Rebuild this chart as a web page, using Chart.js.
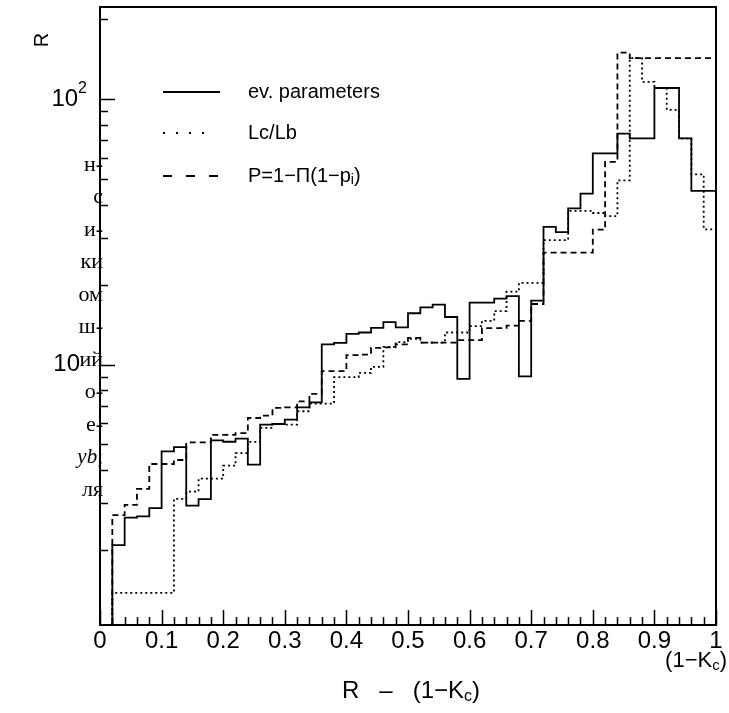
<!doctype html>
<html lang="ru">

<head>
    <meta charset="utf-8">
    <title>R - (1-Kc)</title>
    <style>
        html, body { margin: 0; padding: 0; background: #fff; }
        #box { position: relative; width: 729px; height: 713px; }
    </style>
</head>

<body>
    <div id="box"><canvas id="myChart" width="729" height="713"></canvas></div>

    <script src="https://cdn.jsdelivr.net/npm/chart.js"></script>
    <script>
        // lower edges of the 0.02 wide bins, the last bin closes at 1.0
        var binLow = [0.02, 0.04, 0.06, 0.08, 0.10, 0.12, 0.14, 0.16, 0.18, 0.20,
                      0.22, 0.24, 0.26, 0.28, 0.30, 0.32, 0.34, 0.36, 0.38, 0.40,
                      0.42, 0.44, 0.46, 0.48, 0.50, 0.52, 0.54, 0.56, 0.58, 0.60,
                      0.62, 0.64, 0.66, 0.68, 0.70, 0.72, 0.74, 0.76, 0.78, 0.80,
                      0.82, 0.84, 0.86, 0.88, 0.90, 0.92, 0.94, 0.96, 0.98];
        var binHigh = 1.0;

        // ev. parameters (solid)
        var evParams = [2.09, 2.65, 2.68, 2.88, 4.71, 4.89, 2.94, 3.11, 5.18, 5.12,
                        5.26, 4.2, 5.94, 5.97, 6.2, 6.9, 7.2, 11.9, 12.07, 13.05,
                        13.2, 13.75, 14.45, 13.8, 15.6, 16.4, 16.8, 15.1, 8.83, 17.1,
                        17.1, 17.7, 18.1, 9.03, 17.4, 33.0, 31.5, 38.7, 44.0, 62.4,
                        62.4, 74.0, 71.1, 71.1, 110, 110, 71.1, 45.1, 45.1];

        // Lc/Lb (dotted)
        var lcLb = [1.38, 1.38, 1.38, 1.38, 1.38, 3.12, 3.32, 3.72, 3.72, 4.16,
                    4.64, 5.11, 5.77, 5.97, 5.94, 6.67, 7.13, 7.13, 8.96, 8.96,
                    9.3, 9.8, 11.66, 12.14, 12.5, 12.1, 12.1, 13.2, 13.2, 13.95,
                    14.6, 15.9, 18.8, 20.3, 20.3, 29.4, 29.4, 37.9, 37.9, 37.2,
                    36.2, 49.4, 142.4, 116, 110, 91, 71.1, 52, 32.3];

        // P = 1 - prod(1 - p_i) (dashed)
        var pComb = [2.71, 2.96, 3.40, 4.22, 4.22, 4.37, 5.09, 5.09, 5.43, 5.43,
                     5.52, 6.29, 6.42, 6.87, 6.9, 7.27, 7.75, 9.44, 9.44, 10.84,
                     10.9, 11.56, 11.6, 11.9, 12.6, 12.1, 12.1, 12.1, 12.35, 12.35,
                     13.7, 13.7, 14.0, 14.6, 16.9, 26.4, 26.4, 26.4, 26.4, 32.2,
                     58.0, 149.5, 142.4, 142.4, 142.4, 142.4, 142.4, 142.4, 142.4];

        var xTicks = [0, 0.1, 0.2, 0.3, 0.4, 0.5, 0.6, 0.7, 0.8, 0.9, 1];
        var xTickLabels = ['0', '0.1', '0.2', '0.3', '0.4', '0.5', '0.6', '0.7', '0.8', '0.9', '1'];
        var yDecades = [10, 100];
        var yMin = 1.045, yMax = 222;

        // text column cut from the neighbouring page
        var sideLines = ['н-', 'с', 'и-', 'ки', 'ом', 'ш-', 'ий', 'о-', 'е-', 'yb;', 'ля'];

        var SANS = '"Liberation Sans", Arial, sans-serif';
        var SERIF = '"Liberation Serif", "DejaVu Serif", serif';

        function histPoints(vals) {
            var pts = [{ x: binLow[0], y: yMin }];
            binLow.forEach(function (x, i) { pts.push({ x: x, y: vals[i] }); });
            pts.push({ x: binHigh, y: vals[vals.length - 1] });
            return pts;
        }

        // draws a string made of pieces, some of them sub/superscript
        function richText(ctx, parts, x, y, size, align) {
            var w = 0;
            parts.forEach(function (p) {
                ctx.font = (p.sub || p.sup ? Math.round(size * 0.68) : size) + 'px ' + SANS;
                p.w = ctx.measureText(p.t).width;
                w += p.w;
            });
            var cx = align === 'right' ? x - w : (align === 'center' ? x - w / 2 : x);
            parts.forEach(function (p) {
                ctx.font = (p.sub || p.sup ? Math.round(size * 0.68) : size) + 'px ' + SANS;
                var dy = p.sub ? size * 0.22 : (p.sup ? -size * 0.42 : 0);
                ctx.fillText(p.t, cx, y + dy);
                cx += p.w;
            });
        }

        // page text left of the frame, drawn first so the axis lies over it
        var sideText = {
            id: 'sideText',
            beforeDraw: function (chart) {
                var ctx = chart.ctx;
                ctx.save();
                ctx.fillStyle = '#000';
                ctx.textAlign = 'right';
                ctx.textBaseline = 'middle';
                sideLines.forEach(function (s, i) {
                    var y = 165 + i * 32.5;
                    if (s === 'yb;') {
                        ctx.font = '21px ' + SERIF;
                        var w = ctx.measureText(';').width;
                        ctx.fillText(';', 103, y);
                        ctx.font = 'italic 21px ' + SERIF;
                        ctx.fillText('yb', 103 - w, y);
                    } else {
                        ctx.font = '22px ' + SERIF;
                        ctx.fillText(s, 103, y);
                    }
                });
                ctx.restore();
            }
        };

        var pawFrame = {
            id: 'pawFrame',
            afterDraw: function (chart) {
                var ctx = chart.ctx, a = chart.chartArea;
                var xs = chart.scales.x, ys = chart.scales.y;
                ctx.save();
                ctx.strokeStyle = '#000';
                ctx.fillStyle = '#000';
                ctx.setLineDash([]);

                // frame
                ctx.lineWidth = 2;
                ctx.strokeRect(a.left, a.top, a.right - a.left, a.bottom - a.top);

                // x ticks, pointing inwards
                ctx.lineWidth = 1.5;
                for (var i = 0; i <= 50; i++) {
                    var px = Math.round(xs.getPixelForValue(i * 0.02)) + 0.5;
                    var len = (i % 5 === 0) ? 15 : 8;
                    ctx.beginPath();
                    ctx.moveTo(px, a.bottom);
                    ctx.lineTo(px, a.bottom - len);
                    ctx.stroke();
                }
                // y ticks on the log scale
                [1, 10, 100].forEach(function (d) {
                    for (var m = 1; m <= 9; m++) {
                        var v = m * d;
                        if (v < yMin || v > yMax) continue;
                        var py = Math.round(ys.getPixelForValue(v)) + 0.5;
                        ctx.beginPath();
                        ctx.moveTo(a.left, py);
                        ctx.lineTo(a.left + (m === 1 ? 15 : 8), py);
                        ctx.stroke();
                    }
                });

                // tick labels
                ctx.font = '24px ' + SANS;
                ctx.textAlign = 'center';
                ctx.textBaseline = 'top';
                xTicks.forEach(function (v, i) {
                    ctx.fillText(xTickLabels[i], xs.getPixelForValue(v), a.bottom + 4);
                });
                ctx.textAlign = 'left';
                ctx.textBaseline = 'middle';
                yDecades.forEach(function (v) {
                    var py = ys.getPixelForValue(v);
                    if (v === 100) {
                        richText(ctx, [{ t: '10' }, { t: '2', sup: true }], 87, py, 24, 'right');
                    } else {
                        richText(ctx, [{ t: '10' }], 80, py, 24, 'right');
                    }
                });

                // axis titles
                richText(ctx, [{ t: 'R   \u2013   (1\u2212K' }, { t: 'c', sub: true }, { t: ')' }], 411, 691, 24, 'center');
                richText(ctx, [{ t: '(1\u2212K' }, { t: 'c', sub: true }, { t: ')' }], 727, 661, 22, 'right');
                ctx.save();
                ctx.translate(42, 40);
                ctx.rotate(-Math.PI / 2);
                ctx.font = '20px ' + SANS;
                ctx.textAlign = 'center';
                ctx.fillText('R', 0, 0);
                ctx.restore();

                // legend
                var rows = [
                    { ds: 0, y: 92, dash: [], x2: 220, label: [{ t: 'ev. parameters' }] },
                    { ds: 1, y: 133, dash: [2, 11], x2: 206, label: [{ t: 'Lc/Lb' }] },
                    { ds: 2, y: 176, dash: [9, 14], x2: 222, label: [{ t: 'P=1\u2212\u03a0(1\u2212p' }, { t: 'i', sub: true }, { t: ')' }] }
                ];
                rows.forEach(function (r) {
                    var ds = chart.data.datasets[r.ds];
                    ctx.strokeStyle = ds.borderColor;
                    ctx.lineWidth = ds.borderWidth;
                    ctx.setLineDash(r.dash);
                    ctx.beginPath();
                    ctx.moveTo(163, r.y);
                    ctx.lineTo(r.x2, r.y);
                    ctx.stroke();
                    richText(ctx, r.label, 248, r.y, 20, 'left');
                });
                ctx.restore();
            }
        };

        new Chart('myChart', {
            type: 'line',
            data: {
                datasets: [{
                    label: 'ev. parameters',
                    data: histPoints(evParams),
                    borderColor: '#000',
                    borderWidth: 1.8,
                    stepped: 'before',
                    fill: false
                }, {
                    label: 'Lc/Lb',
                    data: histPoints(lcLb),
                    borderColor: '#000',
                    borderWidth: 1.8,
                    borderDash: [2, 3],
                    stepped: 'before',
                    fill: false
                }, {
                    label: 'P=1-\u03a0(1-p_i)',
                    data: histPoints(pComb),
                    borderColor: '#000',
                    borderWidth: 1.8,
                    borderDash: [6, 4],
                    stepped: 'before',
                    fill: false
                }]
            },
            options: {
                responsive: false,
                animation: false,
                layout: { padding: { left: 100, right: 13, top: 7, bottom: 88 } },
                elements: { point: { radius: 0 } },
                plugins: { legend: { display: false }, tooltip: { enabled: false } },
                scales: {
                    x: { type: 'linear', min: 0, max: 1, display: false },
                    y: { type: 'logarithmic', min: yMin, max: yMax, display: false }
                }
            },
            plugins: [sideText, pawFrame]
        });
    </script>
</body>

</html>
